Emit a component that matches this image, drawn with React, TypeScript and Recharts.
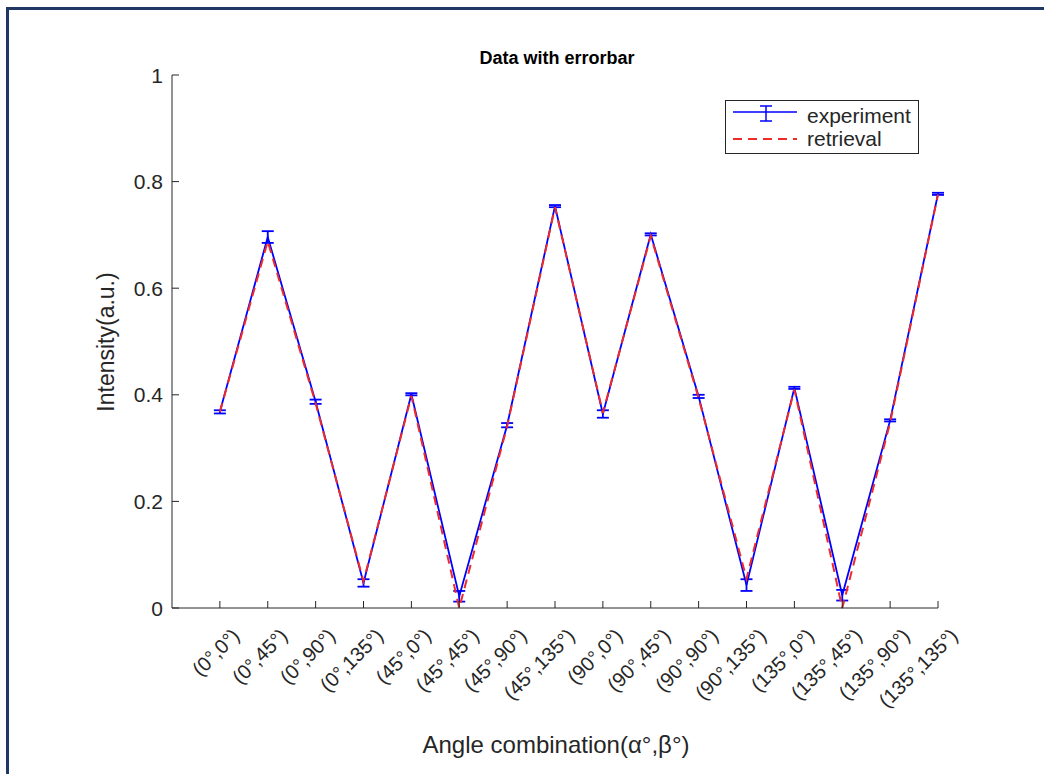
import React from "react"
import { LineChart, Line, XAxis, YAxis, ErrorBar, Legend } from "recharts"

const categories = [
  "(0°,0°)", "(0°,45°)", "(0°,90°)", "(0°,135°)",
  "(45°,0°)", "(45°,45°)", "(45°,90°)", "(45°,135°)",
  "(90°,0°)", "(90°,45°)", "(90°,90°)", "(90°,135°)",
  "(135°,0°)", "(135°,45°)", "(135°,90°)", "(135°,135°)",
]
const experiment = [0.368, 0.696, 0.387, 0.047, 0.401, 0.022, 0.343, 0.754, 0.364, 0.701, 0.397, 0.043, 0.413, 0.024, 0.352, 0.777]
const errors = [0.003, 0.011, 0.004, 0.007, 0.002, 0.01, 0.004, 0.002, 0.007, 0.002, 0.003, 0.011, 0.002, 0.01, 0.002, 0.002]
const retrieval = [0.368, 0.688, 0.384, 0.05, 0.398, 0.0, 0.341, 0.752, 0.366, 0.698, 0.394, 0.055, 0.41, 0.0, 0.348, 0.776]
const yTicks = [0, 0.2, 0.4, 0.6, 0.8, 1]
const xTicks = categories.map((_, i) => i + 1)

const data = categories.map((c, i) => ({
  x: i + 1,
  name: c,
  experiment: experiment[i],
  err: errors[i],
  retrieval: retrieval[i],
}))

const FONT = "'Liberation Sans', Arial, sans-serif"
const AXIS = "#262626"
const BLUE = "#0000ff"
const RED = "#ee2a2a"

const YTick = (props: any) => {
  const { x, y, payload } = props
  return (
    <g>
      <line x1={x} y1={y} x2={x + 7} y2={y} stroke={AXIS} strokeWidth={1} />
      <text x={x - 9} y={y} textAnchor="end" dominantBaseline="central" fontSize={21} fill={AXIS} fontFamily={FONT}>
        {String(payload.value)}
      </text>
    </g>
  )
}

const XTick = (props: any) => {
  const { x, y, payload } = props
  const label = categories[payload.value - 1] ?? ""
  const tx = x + 16
  const ty = y + 24
  return (
    <g>
      <line x1={x} y1={y} x2={x} y2={y - 7} stroke={AXIS} strokeWidth={1} />
      <text
        x={tx}
        y={ty}
        textAnchor="end"
        dominantBaseline="central"
        fontSize={20}
        fill={AXIS}
        fontFamily={FONT}
        transform={`rotate(-45 ${tx} ${ty})`}
      >
        {label}
      </text>
    </g>
  )
}

const LegendBox = () => (
  <div
    style={{
      border: `1px solid ${AXIS}`,
      background: "#fff",
      fontFamily: FONT,
      fontSize: 21,
      color: AXIS,
      padding: "3px 0 3px 7px",
      boxSizing: "border-box",
    }}
  >
    <div style={{ display: "flex", alignItems: "center", height: 23 }}>
      <svg width={64} height={23}>
        <line x1={0} y1={8} x2={64} y2={8} stroke={BLUE} strokeWidth={1.5} />
        <line x1={33} y1={2} x2={33} y2={17} stroke={BLUE} strokeWidth={1.5} />
        <line x1={27} y1={2} x2={39} y2={2} stroke={BLUE} strokeWidth={1.5} />
        <line x1={27} y1={17} x2={39} y2={17} stroke={BLUE} strokeWidth={1.5} />
      </svg>
      <span style={{ marginLeft: 10 }}>experiment</span>
    </div>
    <div style={{ display: "flex", alignItems: "center", height: 23 }}>
      <svg width={64} height={23}>
        <line x1={0} y1={12} x2={64} y2={12} stroke={RED} strokeWidth={2} strokeDasharray="9 6" />
      </svg>
      <span style={{ marginLeft: 10 }}>retrieval</span>
    </div>
  </div>
)

export default function App() {
  return (
    <div style={{ position: "absolute", left: 0, top: 0, width: 1044, height: 774, overflow: "hidden", background: "#fff" }}>
      <div
        style={{
          position: "absolute",
          left: 6,
          top: 7,
          width: 1100,
          height: 900,
          borderTop: "3px solid #1f3864",
          borderLeft: "3px solid #1f3864",
        }}
      />
      <div style={{ position: "absolute", left: 0, top: 0 }}>
        <LineChart width={1044} height={774} data={data} margin={{ top: 75, right: 106, left: 112, bottom: 86 }}>
          <XAxis
            dataKey="x"
            type="number"
            domain={[0, 16]}
            ticks={xTicks}
            interval={0}
            height={80}
            tickSize={0}
            tickMargin={0}
            tickLine={false}
            axisLine={{ stroke: AXIS, strokeWidth: 1 }}
            tick={<XTick />}
          />
          <YAxis
            type="number"
            domain={[0, 1]}
            ticks={yTicks}
            width={60}
            tickSize={0}
            tickMargin={0}
            tickLine={false}
            axisLine={{ stroke: AXIS, strokeWidth: 1 }}
            tick={<YTick />}
          />
          <Legend
            layout="vertical"
            align="center"
            verticalAlign="middle"
            wrapperStyle={{ left: 725, top: 100, width: 194 }}
            content={<LegendBox />}
          />
          <Line
            dataKey="experiment"
            type="linear"
            stroke={BLUE}
            strokeWidth={1.8}
            dot={false}
            activeDot={false}
            isAnimationActive={false}
          >
            <ErrorBar dataKey="err" direction="y" width={6} stroke={BLUE} strokeWidth={1.8} isAnimationActive={false} />
          </Line>
          <Line
            dataKey="retrieval"
            type="linear"
            stroke={RED}
            strokeWidth={2}
            strokeDasharray="9 6"
            dot={false}
            activeDot={false}
            isAnimationActive={false}
          />
          <text x={557} y={64} textAnchor="middle" fontSize={18} fontWeight="bold" fill="#000" fontFamily={FONT}>
            Data with errorbar
          </text>
          <text
            x={106}
            y={342}
            textAnchor="middle"
            dominantBaseline="central"
            fontSize={23}
            fill={AXIS}
            fontFamily={FONT}
            transform="rotate(-90 106 342)"
          >
            Intensity(a.u.)
          </text>
          <text x={556} y={753} textAnchor="middle" fontSize={24} fill={AXIS} fontFamily={FONT}>
            Angle combination(α°,β°)
          </text>
        </LineChart>
      </div>
    </div>
  )
}
